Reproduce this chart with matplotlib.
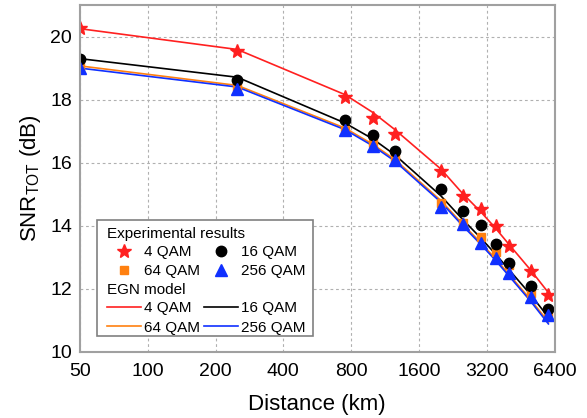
import numpy as np
import matplotlib
matplotlib.use("Agg")
import matplotlib.pyplot as plt
from matplotlib.lines import Line2D

plt.rcParams['font.family'] = ['Liberation Sans', 'DejaVu Sans']
plt.rcParams['mathtext.fontset'] = 'custom'
plt.rcParams['mathtext.rm'] = 'Liberation Sans'

# distances (km)
dist = [50, 250, 750, 1000, 1250, 2000, 2500, 3000, 3500, 4000, 5000, 6000]

# experimental results (dB)
exp_4qam = [20.27, 19.53, 18.08, 17.41, 16.90, 15.74, 14.94, 14.52, 13.99, 13.35, 12.57, 11.80]
exp_16qam = [19.29, 18.61, 17.37, 16.88, 16.36, 15.18, 14.46, 14.04, 13.41, 12.83, 12.09, 11.35]
exp_64qam = [19.05, 18.40, 17.05, 16.62, 16.12, 14.71, 14.10, 13.63, 13.17, 12.75, 11.88, 11.23]
exp_256qam = [19.00, 18.33, 17.03, 16.53, 16.08, 14.60, 14.05, 13.46, 12.98, 12.51, 11.75, 11.17]

# EGN model (dB)
egn_4qam = [20.25, 19.59, 18.16, 17.59, 17.05, 15.80, 15.02, 14.45, 13.92, 13.42, 12.60, 11.88]
egn_16qam = [19.30, 18.71, 17.26, 16.75, 16.25, 14.95, 14.20, 13.62, 13.10, 12.62, 11.82, 11.10]
egn_64qam = [19.07, 18.45, 17.10, 16.58, 16.10, 14.80, 14.05, 13.47, 12.95, 12.47, 11.66, 10.95]
egn_256qam = [19.00, 18.40, 17.05, 16.53, 16.05, 14.75, 14.00, 13.42, 12.90, 12.42, 11.61, 10.89]

xticks = [50, 100, 200, 400, 800, 1600, 3200, 6400]

red = '#ff2020'
black = '#000000'
orange = '#ff8010'
blue = '#1030ff'

fig = plt.figure(figsize=(5.87, 4.18), dpi=100)
ax = fig.add_axes([0.136, 0.158, 0.809, 0.830])

ax.plot(dist, egn_4qam, color=red, lw=1.2)
ax.plot(dist, egn_16qam, color=black, lw=1.2)
ax.plot(dist, egn_64qam, color=orange, lw=1.2)
ax.plot(dist, egn_256qam, color=blue, lw=1.2)

ax.plot(dist, exp_4qam, ls='none', marker='*', ms=10.5, color=red)
ax.plot(dist, exp_64qam, ls='none', marker='s', ms=5.5, color=orange)
ax.plot(dist, exp_16qam, ls='none', marker='o', ms=7.5, color=black)
ax.plot(dist, exp_256qam, ls='none', marker='^', ms=8.5, color=blue)

ax.set_xscale('log', base=2)
ax.set_xlim(50, 6400)
ax.set_ylim(10, 21)
ax.set_xticks(xticks)
ax.set_xticklabels([str(t) for t in xticks])
ax.minorticks_off()
ax.set_yticks([10, 12, 14, 16, 18, 20])
ax.tick_params(length=0, labelsize=14)
ax.tick_params(axis='x', pad=8)
ax.tick_params(axis='y', pad=5.5)
ax.grid(True, ls=(0, (2.5, 2.5)), color='#b0b0b0', lw=0.8)
for s in ax.spines.values():
    s.set_color('#a0a0a0')
    s.set_linewidth(1.5)

ax.set_xlabel('Distance (km)', fontsize=16, labelpad=10)
ax.set_ylabel(r'SNR$_{\mathrm{TOT}}$ (dB)', fontsize=16, labelpad=5)

# legend box
ax.add_patch(plt.Rectangle((0.037, 0.046), 0.4535, 0.334, transform=ax.transAxes,
                           facecolor='white', edgecolor='#808080', lw=1.2, zorder=4))

mk = [
    Line2D([], [], ls='none', marker='*', ms=10.5, color=red, label='4 QAM'),
    Line2D([], [], ls='none', marker='s', ms=5.5, color=orange, label='64 QAM'),
    Line2D([], [], ls='none', marker='o', ms=7.5, color=black, label='16 QAM'),
    Line2D([], [], ls='none', marker='^', ms=8.5, color=blue, label='256 QAM'),
]
ln = [
    Line2D([], [], color=red, lw=1.2, label='4 QAM'),
    Line2D([], [], color=orange, lw=1.2, label='64 QAM'),
    Line2D([], [], color=black, lw=1.2, label='16 QAM'),
    Line2D([], [], color=blue, lw=1.2, label='256 QAM'),
]
kw = dict(ncol=2, fontsize=11, title_fontsize=11, alignment='left',
          frameon=False, handlelength=2.2, handletextpad=0.2,
          columnspacing=0.3, labelspacing=0.35, borderpad=0.0,
          borderaxespad=0.0)
leg1 = ax.legend(handles=mk, title='Experimental results',
                 loc='upper left', bbox_to_anchor=(0.057, 0.361), **kw)
leg1._legend_box.sep = 3
leg1.set_zorder(5)
ax.add_artist(leg1)

fig.canvas.draw()
r = fig.canvas.get_renderer()
b1 = leg1.get_window_extent(r).transformed(ax.transAxes.inverted())
gap = 5 / ax.bbox.height

leg2 = ax.legend(handles=ln, title='EGN model',
                 loc='upper left', bbox_to_anchor=(0.057, b1.y0 - gap), **kw)
leg2._legend_box.sep = 3
leg2.set_zorder(5)

fig.savefig('out.png', dpi=100)
